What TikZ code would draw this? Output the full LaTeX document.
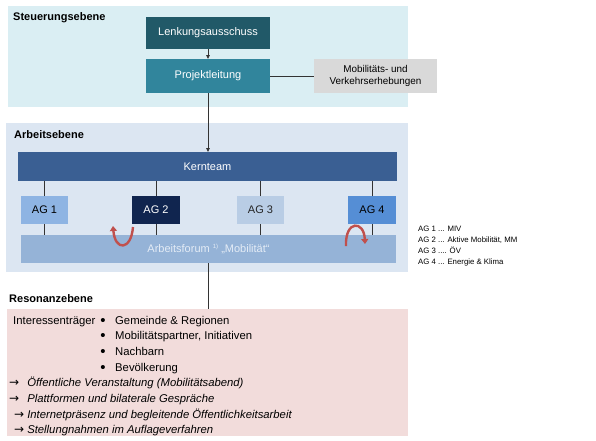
\documentclass[tikz,border=0pt]{standalone}
\usepackage{fontspec}
\setmainfont{Liberation Sans}
\newfontfamily\arrowfont{DejaVu Sans}
\usetikzlibrary{arrows.meta}
\definecolor{bgsteu}{HTML}{DAEEF3}
\definecolor{bgarb}{HTML}{DCE6F2}
\definecolor{bgres}{HTML}{F2DCDB}
\definecolor{clenk}{HTML}{215968}
\definecolor{cproj}{HTML}{31859C}
\definecolor{cmob}{HTML}{D9D9D9}
\definecolor{ckern}{HTML}{3A5F93}
\definecolor{cagone}{HTML}{8EB4E3}
\definecolor{cagtwo}{HTML}{10254F}
\definecolor{cagthree}{HTML}{B9CDE5}
\definecolor{cagfour}{HTML}{558ED5}
\definecolor{cforum}{HTML}{95B3D7}
\definecolor{cforumtext}{HTML}{E4ECF6}
\definecolor{credarr}{HTML}{C0504D}
\definecolor{cline}{HTML}{333333}
\newcommand{\myarrow}{{\arrowfont\fontsize{12}{13}\selectfont\itshape →}}
\tikzset{
  panel/.style={rectangle, inner sep=0pt, outer sep=0pt, anchor=north west},
  orgbox/.style={rectangle, inner sep=0pt, outer sep=0pt, anchor=north west, text=white, font=\fontsize{11}{13}\selectfont},
  title/.style={anchor=west, inner sep=0pt, font=\fontsize{11}{13}\selectfont\bfseries},
  conn/.style={draw=cline, line width=0.8pt},
  arr/.style={conn, -{Triangle[length=4pt,width=3.5pt]}},
  redarr/.style={draw=credarr, line width=2.4pt, -{Triangle[length=5pt,width=7pt]}},
  legtext/.style={anchor=base west, inner sep=0pt, font=\fontsize{7.8}{9}\selectfont},
  restext/.style={anchor=base west, inner sep=0pt, font=\fontsize{11.3}{13}\selectfont},
  resit/.style={restext, font=\fontsize{11.3}{13}\selectfont\itshape},
  bul/.style={anchor=base, inner sep=0pt, font=\fontsize{15}{15}\selectfont}
}
\begin{document}
\begin{tikzpicture}[x=1pt,y=-1pt]
\useasboundingbox (0,0) rectangle (596,440);
\fill[white] (0,0) rectangle (596,440);
% panels
\node[panel, fill=bgsteu, minimum width=400pt, minimum height=101pt] (steu) at (8,6) {};
\node[panel, fill=bgarb, minimum width=402pt, minimum height=149pt] (arb) at (6,123) {};
\node[panel, fill=bgres, minimum width=401pt, minimum height=127pt] (reso) at (7,309) {};
% titles
\node[title] (tsteu) at (13,18) {Steuerungsebene};
\node[title] (tarb) at (14,135) {Arbeitsebene};
\node[title] (tres) at (9,299) {Resonanzebene};
% Steuerungsebene boxes
\node[orgbox, fill=clenk, minimum width=124pt, minimum height=32pt] (lenk) at (146,17) {Lenkungsausschuss};
\node[orgbox, fill=cproj, minimum width=124pt, minimum height=34pt] (proj) at (146,59) {Projektleitung};
\node[orgbox, fill=cmob, minimum width=123pt, minimum height=34pt, text=black, align=center, font=\fontsize{9.9}{12.5}\selectfont] (mob) at (314,59) {Mobilitäts- und\\Verkehrserhebungen};
% Arbeitsebene boxes
\node[orgbox, fill=ckern, minimum width=379pt, minimum height=29pt] (kern) at (18,152) {Kernteam};
\node[orgbox, fill=cagone, minimum width=47pt, minimum height=28pt, text=black] (ag1) at (21,196) {AG 1};
\node[orgbox, fill=cagtwo, minimum width=48pt, minimum height=28pt] (ag2) at (132,196) {AG 2};
\node[orgbox, fill=cagthree, minimum width=47pt, minimum height=28pt, text=black!85] (ag3) at (237,196) {AG 3};
\node[orgbox, fill=cagfour, minimum width=48pt, minimum height=28pt, text=black] (ag4) at (348,196) {AG 4};
\node[orgbox, fill=cforum, minimum width=375pt, minimum height=28pt, text=cforumtext] (forum) at (21,235) {Arbeitsforum {\fontsize{6}{6}\selectfont\raisebox{3.5pt}{1)}} „Mobilität“};
% connectors
\draw[arr] (lenk) -- (proj);
\draw[conn] (proj.east) -- (mob.west);
\draw[arr] (proj.south) -- (proj.south |- kern.north);
\foreach \a in {ag1,ag2,ag3,ag4}{
  \draw[conn] (\a.north) -- (\a.north |- kern.south);
  \draw[conn] (\a.south) -- (\a.south |- forum.north);
}
\draw[conn] (forum.south) -- (forum.south |- reso.north);
% red curved arrows
\coordinate (lra) at (133,227);
\coordinate (lrb) at (113,226);
\coordinate (rra) at (346,246);
\coordinate (rrb) at (365,244);
\draw[redarr] (lra) .. controls (131,251) and (115,251) .. (lrb);
\draw[redarr] (rra) .. controls (345,220) and (364,220) .. (rrb);
% legend
\node[legtext] (leg1) at (418,231.7) {AG 1 ... MIV};
\node[legtext] (leg2) at (418,242.7) {AG 2 ... Aktive Mobilität, MM};
\node[legtext] (leg3) at (418,253.7) {AG 3 .... ÖV};
\node[legtext] (leg4) at (418,264.7) {AG 4 ... Energie \& Klima};
% Resonanzebene text
\node[restext] (inter) at (13,324) {Interessenträger};
\node[bul] (b1) at (103,325) {•};
\node[bul] (b2) at (103,340.7) {•};
\node[bul] (b3) at (103,356.4) {•};
\node[bul] (b4) at (103,372) {•};
\node[restext] (i1) at (115,324) {Gemeinde \& Regionen};
\node[restext] (i2) at (115,339.7) {Mobilitätspartner, Initiativen};
\node[restext] (i3) at (115,355.4) {Nachbarn};
\node[restext] (i4) at (115,371) {Bevölkerung};
\node[resit] (r1) at (9,386.6) {\myarrow\hspace{8pt}Öffentliche Veranstaltung (Mobilitätsabend)};
\node[resit] (r2) at (9,402.3) {\myarrow\hspace{8pt}Plattformen und bilaterale Gespräche};
\node[resit] (r3) at (14,418) {\myarrow\hspace{3pt}Internetpräsenz und begleitende Öffentlichkeitsarbeit};
\node[resit] (r4) at (14,433.6) {\myarrow\hspace{3pt}Stellungnahmen im Auflageverfahren};
\end{tikzpicture}
\end{document}
